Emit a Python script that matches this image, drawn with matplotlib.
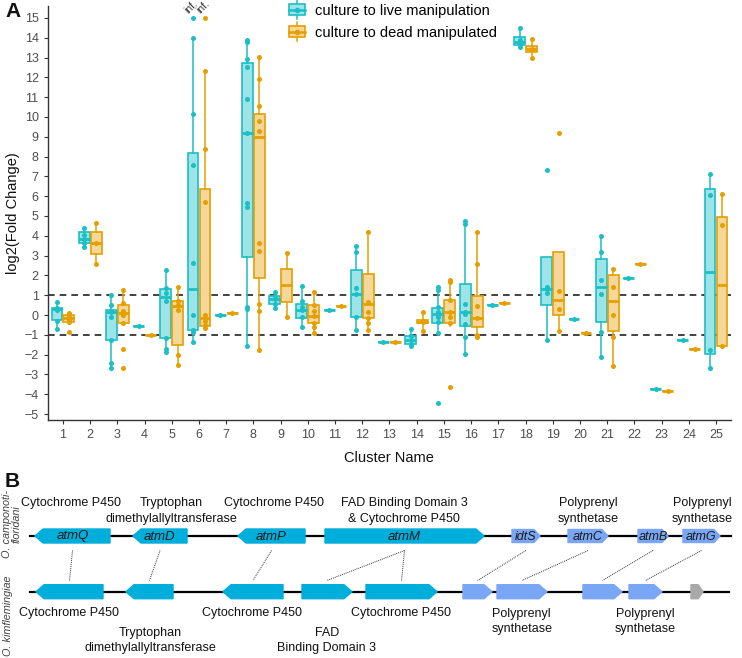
import matplotlib
matplotlib.use("Agg")
import matplotlib.pyplot as plt
from matplotlib.patches import Rectangle, Polygon, Patch
from matplotlib.lines import Line2D
from matplotlib.legend_handler import HandlerBase

plt.rcParams['font.family'] = ['Liberation Sans', 'DejaVu Sans']

# ---------------- Panel A data ----------------
clusters = list(range(1, 26))

live_q1  = [-0.24, 3.66, -1.27, -0.54, -1.14, -0.76, 0.00, 2.91, 0.56, -0.17, 0.24, -0.12, -1.36,
            -1.46, -0.39, -0.57, 0.49, 13.64, 0.52, -0.19, -0.37, 1.88, -3.74, -1.26, -1.98]
live_med = [0.30, 3.86, 0.17, -0.54, 0.93, 1.32, 0.00, 9.19, 0.79, 0.25, 0.24, 1.06, -1.36,
            -1.26, 0.07, 0.13, 0.49, 13.80, 1.30, -0.19, 1.43, 1.88, -3.74, -1.26, 2.16]
live_q3  = [0.36, 4.17, 0.25, -0.54, 1.31, 8.20, 0.00, 12.74, 0.96, 0.56, 0.24, 2.27, -1.36,
            -1.06, 0.37, 1.57, 0.49, 14.06, 2.91, -0.19, 2.83, 1.88, -3.74, -1.26, 6.35]
live_lo  = [-0.71, 3.42, -2.66, -0.54, -1.86, -1.37, 0.00, -1.57, 0.35, -0.62, 0.24, -0.76, -1.36,
            -1.57, -0.93, -1.98, 0.49, 13.52, -1.26, -0.19, -2.10, 1.88, -3.74, -1.26, -2.66]
live_hi  = [0.64, 4.41, 1.00, -0.54, 2.25, 14.00, 0.00, 13.87, 1.16, 1.46, 0.24, 3.48, -1.36,
            -0.69, 1.43, 4.73, 0.49, 14.51, 2.91, -0.19, 4.00, 1.88, -3.74, -1.26, 7.14]
live_pts = [
    [0.64, 0.36, 0.30, 0.25, -0.30, -0.71],
    [4.41, 4.05, 3.86, 3.66, 3.42],
    [1.00, 0.52, 0.22, 0.17, -0.12, -1.27, -2.42, -2.66],
    [-0.54],
    [2.25, 1.37, 1.10, 0.73, -1.14, -1.71, -1.86],
    [15.0, 14.0, 10.14, 7.58, 2.62, 0.0, -0.75, -0.85, -1.37],
    [0.00],
    [13.87, 13.77, 12.93, 12.54, 10.9, 9.19, 5.64, 5.47, 0.39, 0.30, -1.57],
    [1.16, 0.96, 0.79, 0.56, 0.35],
    [1.46, 0.72, 0.39, 0.25, -0.12, -0.62],
    [0.24],
    [3.48, 3.20, 1.38, 1.06, -0.12, -0.76],
    [-1.36],
    [-0.69, -1.06, -1.26, -1.46, -1.57],
    [1.43, 1.26, 0.42, 0.15, 0.07, -0.10, -0.35, -0.93, -4.42],
    [4.73, 4.60, 0.56, 0.13, 0.05, -0.45, -1.10, -1.98],
    [0.49],
    [14.51, 13.90, 13.80, 13.70, 13.52],
    [7.34, 1.43, 1.30, 1.13, -1.26],
    [-0.19],
    [4.00, 3.20, 1.78, 1.07, -0.84, -2.10],
    [1.88],
    [-3.74],
    [-1.26],
    [7.14, 6.06, -1.77, -2.66],
]

dead_q1  = [-0.36, 3.10, -0.39, -1.00, -1.50, -0.54, 0.08, 1.88, 0.67, -0.42, 0.47, -0.14, -1.38,
            -0.42, -0.42, -0.62, 0.61, 13.30, 0.00, -0.93, -0.81, 2.58, -3.83, -1.73, -1.55]
dead_med = [-0.15, 3.64, 0.10, -1.00, 0.44, -0.17, 0.08, 9.00, 1.52, -0.05, 0.47, 0.57, -1.38,
            -0.34, 0.17, -0.17, 0.61, 13.43, 0.76, -0.93, 0.72, 2.58, -3.83, -1.73, 1.50]
dead_q3  = [-0.02, 4.17, 0.51, -1.00, 0.73, 6.36, 0.08, 10.17, 2.32, 0.51, 0.47, 2.07, -1.38,
            -0.25, 0.76, 0.98, 0.61, 13.60, 3.20, -0.93, 2.03, 2.58, -3.83, -1.73, 4.93]
dead_lo  = [-0.42, 2.56, -0.40, -1.00, -2.50, -0.70, 0.08, -1.78, -0.12, -0.89, 0.47, -0.76, -1.38,
            -0.81, -0.55, -1.13, 0.61, 12.95, -0.81, -0.93, -2.56, 2.58, -3.83, -1.73, -1.60]
dead_hi  = [0.08, 4.66, 1.24, -1.00, 1.42, 12.34, 0.08, 13.05, 3.15, 1.18, 0.47, 4.19, -1.38,
            0.13, 1.77, 4.18, 0.61, 13.94, 3.20, -0.93, 2.31, 2.58, -3.83, -1.73, 6.13]
dead_pts = [
    [0.08, -0.10, -0.15, -0.25, -0.35, -0.88],
    [4.66, 3.64, 2.56],
    [1.24, 0.60, 0.20, 0.00, -0.40, -1.73, -2.68],
    [-1.00],
    [1.42, 0.70, 0.50, 0.25, -2.03, -2.50],
    [15.0, 12.34, 8.40, 5.69, 0.00, -0.30, -0.50, -0.66],
    [0.08],
    [13.05, 11.90, 10.56, 9.80, 9.29, 3.62, 3.25, 0.56, 0.19, -1.78],
    [3.15, -0.12],
    [1.18, 0.51, 0.20, -0.05, -0.40, -0.60, -0.89],
    [0.47],
    [4.19, 0.67, 0.17, -0.14, -0.39, -0.76],
    [-1.38],
    [0.13, -0.30, -0.34, -0.81],
    [1.77, 1.65, 0.76, 0.17, -0.10, -0.42, -3.62],
    [4.18, 2.56, 0.47, -0.17, -1.01, -1.13],
    [0.61],
    [13.94, 13.43, 12.95],
    [9.21, 1.21, 0.30, -0.81],
    [-0.93],
    [2.31, 1.39, 0.02, -1.10, -2.56],
    [2.58],
    [-3.83],
    [-1.73],
    [6.13, 4.53, -1.55],
]

series_names = ["culture to live manipulation", "culture to dead manipulated"]
inf_label = "inf."
inf_cluster = 6
inf_value = 15.0

# ---------------- Panel B data ----------------
top_names   = ["atmQ", "atmD", "atmP", "atmM", "idtS", "atmC", "atmB", "atmG"]
top_start   = [35, 133, 238, 325, 512, 568, 638, 683]
top_end     = [110, 187, 305, 484, 540, 608, 668, 720]
top_strand  = [-1, -1, -1, 1, 1, 1, 1, 1]
top_kind    = ["main", "main", "main", "main", "prenyl", "prenyl", "prenyl", "prenyl"]

bot_start   = [36, 126, 223, 302, 366, 463, 497, 583, 629, 691]
bot_end     = [103, 173, 283, 352, 437, 492, 547, 622, 662, 703]
bot_strand  = [-1, -1, -1, 1, 1, 1, 1, 1, 1, 1]
bot_kind    = ["main"] * 5 + ["prenyl"] * 4 + ["other"]

links = [(0, 0), (1, 1), (2, 2), (3, 3), (3, 4), (4, 5), (5, 6), (6, 7), (7, 8)]

top_annot_text = ["Cytochrome P450", "Tryptophan\ndimethylallyltransferase", "Cytochrome P450",
                  "FAD Binding Domain 3\n& Cytochrome P450", "Polyprenyl\nsynthetase",
                  "Polyprenyl\nsynthetase"]
top_annot_x = [70.7, 171.7, 273.7, 404, 588, 702]

bot_annot_text = ["Cytochrome P450", "Tryptophan\ndimethylallyltransferase", "Cytochrome P450",
                  "FAD\nBinding Domain 3", "Cytochrome P450", "Polyprenyl\nsynthetase",
                  "Polyprenyl\nsynthetase"]
bot_annot_x = [69, 150, 252.5, 326.7, 401, 521.7, 645]
bot_annot_y = [613, 632.7, 613, 632.7, 613, 614, 614]

species_top = ["O. camponoti-", "floridani"]
species_bot = "O. kimflemingiae"

# ---------------- styling ----------------
CYAN = "#1BBFC6"
CYAN_FILL = "#9CE4E7"
ORANGE = "#E69F00"
ORANGE_FILL = "#F5D79A"
GENE_MAIN = "#00AEDC"
GENE_PRENYL = "#7AA6F6"
GENE_OTHER = "#A9A9A9"
gene_colors = {"main": GENE_MAIN, "prenyl": GENE_PRENYL, "other": GENE_OTHER}

W, H = 742, 658
fig = plt.figure(figsize=(W / 100, H / 100), dpi=100)

# overlay axes in pixel coordinates (panel B and labels)
axB = fig.add_axes([0, 0, 1, 1], zorder=0)
axB.set_xlim(0, W)
axB.set_ylim(H, 0)
axB.axis("off")

# Panel A axes
left_px, right_px, top_px, bot_px = 47.7, 731, 6, 420
ax = fig.add_axes([left_px / W, 1 - bot_px / H, (right_px - left_px) / W, (bot_px - top_px) / H], zorder=1)
ax.patch.set_alpha(0)

offset = 0.22
bw = 0.40


def stats_list(q1, med, q3, lo, hi):
    return [dict(q1=a, med=b, q3=c, whislo=d, whishi=e, fliers=[]) for a, b, c, d, e in zip(q1, med, q3, lo, hi)]


for stats, pts, sgn, ec, fc in [
    (stats_list(live_q1, live_med, live_q3, live_lo, live_hi), live_pts, -1, CYAN, CYAN_FILL),
    (stats_list(dead_q1, dead_med, dead_q3, dead_lo, dead_hi), dead_pts, 1, ORANGE, ORANGE_FILL),
]:
    pos = [c + sgn * offset for c in clusters]
    ax.bxp(stats, positions=pos, widths=bw, patch_artist=True, showcaps=False, showfliers=False,
           boxprops=dict(facecolor=fc, edgecolor=ec, linewidth=1.2),
           whiskerprops=dict(color=ec, linewidth=1.1),
           medianprops=dict(color=ec, linewidth=2.0, solid_capstyle="butt"),
           manage_ticks=False)
    xs, ys = [], []
    for p, vals in zip(pos, pts):
        xs += [p] * len(vals)
        ys += vals
    ax.scatter(xs, ys, s=13, color=ec, zorder=4, linewidths=0)

ax.axhline(1, color="#222222", linestyle=(0, (4, 3)), linewidth=1.2, zorder=0.5)
ax.axhline(-1, color="#222222", linestyle=(0, (4, 3)), linewidth=1.2, zorder=0.5)

for sgn in (-1, 1):
    ax.text(inf_cluster + sgn * offset - 0.08, inf_value + 0.1, inf_label, rotation=45, ha="center",
            va="bottom", fontsize=7.5, color="#333333", clip_on=False)

ax.set_xlim(0.44, 25.55)
ax.set_ylim(-5.30, 15.6)
ax.set_xticks(clusters)
ax.set_xticklabels([str(c) for c in clusters])
ax.set_yticks(range(-5, 16))
for s in ["top", "right"]:
    ax.spines[s].set_visible(False)
for s in ["left", "bottom"]:
    ax.spines[s].set_color("#333333")
    ax.spines[s].set_linewidth(1.0)
ax.tick_params(axis="both", colors="#333333", labelcolor="#4D4D4D", labelsize=9, length=3, width=0.8)
ax.set_xlabel("Cluster Name", fontsize=10.5, color="#111111", labelpad=7)
ax.set_ylabel("log2(Fold Change)", fontsize=10.5, color="#111111", labelpad=3)


class BoxHandler(HandlerBase):
    def __init__(self, ec, fc):
        super().__init__()
        self.ec, self.fc = ec, fc

    def create_artists(self, legend, orig_handle, xdescent, ydescent, width, height, fontsize, trans):
        cx = -xdescent + width / 2
        cy = -ydescent + height / 2
        bwid = width * 0.95
        bh = height * 0.95
        art = []
        art.append(Line2D([cx, cx], [cy - bh * 0.85, cy + bh * 0.85], color=self.ec, lw=1.1, transform=trans))
        art.append(Rectangle((cx - bwid / 2, cy - bh / 2), bwid, bh, facecolor=self.fc, edgecolor=self.ec,
                             lw=1.2, transform=trans))
        art.append(Line2D([cx - bwid / 2, cx + bwid / 2], [cy, cy], color=self.ec, lw=1.8, transform=trans))
        art.append(Line2D([cx], [cy], marker="o", markersize=3, color=self.ec, lw=0, transform=trans))
        return art


h1, h2 = Patch(), Patch()
fig.legend([h1, h2], series_names, loc="upper left", bbox_to_anchor=(286 / W, 1 - 1 / H),
           frameon=False, fontsize=10.5, handlelength=1.15, handleheight=0.85, handletextpad=0.65,
           labelspacing=0.55, borderpad=0.2, borderaxespad=0,
           handler_map={h1: BoxHandler(CYAN, CYAN_FILL), h2: BoxHandler(ORANGE, ORANGE_FILL)})

# panel letters
axB.text(5, 17, "A", fontsize=15, fontweight="bold", ha="left", va="baseline", color="#111111")
axB.text(5, 487, "B", fontsize=15, fontweight="bold", ha="left", va="baseline", color="#111111")

# ---------------- Panel B drawing ----------------
top_y, bot_y = 536, 591.7
gh = 14


def gene(s, e, y, strand, color, h=gh, head=8):
    head = min(head, (e - s) * 0.4)
    if strand > 0:
        pts = [(s, y - h / 2), (e - head, y - h / 2), (e, y), (e - head, y + h / 2), (s, y + h / 2)]
    else:
        pts = [(e, y - h / 2), (s + head, y - h / 2), (s, y), (s + head, y + h / 2), (e, y + h / 2)]
    axB.add_patch(Polygon(pts, closed=True, facecolor=color, edgecolor=color, lw=1.0, joinstyle="round", zorder=3))


axB.plot([30, 731], [top_y, top_y], color="black", lw=1.6, zorder=2)
axB.plot([30, 729], [bot_y, bot_y], color="black", lw=1.6, zorder=2)

for nm, s, e, st, k in zip(top_names, top_start, top_end, top_strand, top_kind):
    gene(s, e, top_y, st, gene_colors[k], h=gh if k == "main" else 13, head=8 if k == "main" else 6)
    axB.text((s + e) / 2, top_y + 0.5, nm, fontsize=9.5 if k == "main" else 9, style="italic",
             ha="center", va="center", color="#1a1a1a", zorder=4)
for s, e, st, k in zip(bot_start, bot_end, bot_strand, bot_kind):
    gene(s, e, bot_y, st, gene_colors[k])

for ti, bi in links:
    tx = (top_start[ti] + top_end[ti]) / 2
    bx = (bot_start[bi] + bot_end[bi]) / 2
    axB.plot([tx, bx], [550.5, 580.5], color="#333333", lw=0.7, linestyle=(0, (1, 1)), zorder=2)


def multiline(x, y_first, text, step=15.5):
    for i, line in enumerate(text.split("\n")):
        axB.text(x, y_first + i * step, line, fontsize=9, ha="center", va="center", color="#111111")


for t, x in zip(top_annot_text, top_annot_x):
    multiline(x, 503, t, 16)
for t, x, y in zip(bot_annot_text, bot_annot_x, bot_annot_y):
    multiline(x, y, t, 15)

axB.text(7, 524, species_top[0], rotation=90, fontsize=7.8, style="italic", ha="center", va="center",
         color="#444444")
axB.text(17, 524, species_top[1], rotation=90, fontsize=7.8, style="italic", ha="center", va="center",
         color="#444444")
axB.text(8, 616, species_bot, rotation=90, fontsize=7.8, style="italic", ha="center", va="center",
         color="#444444")

fig.savefig("out.png", dpi=100)
